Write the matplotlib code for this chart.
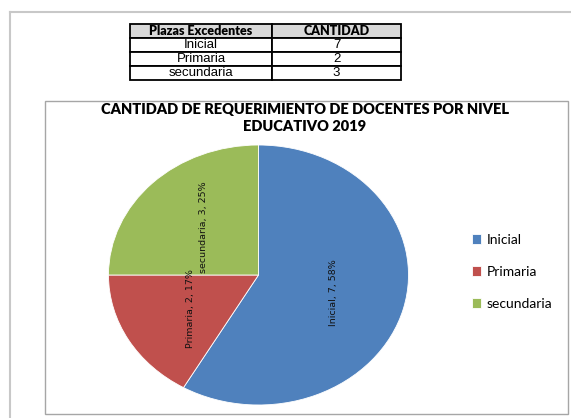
import matplotlib.pyplot as plt
from matplotlib.patches import Rectangle

# data
niveles = ["Inicial", "Primaria", "secundaria"]
cantidad = [7, 2, 3]
colores = ["#4f81bd", "#c0504d", "#9bbb59"]
titulo = "CANTIDAD DE REQUERIMIENTO DE DOCENTES POR NIVEL\nEDUCATIVO 2019"
encabezado = ["Plazas Excedentes", "CANTIDAD"]

W, H = 571, 418


def px_box(x0, y0, x1, y1):
    # pixel box (top-left origin) -> figure fraction rect
    return [x0 / W, 1 - y1 / H, (x1 - x0) / W, (y1 - y0) / H]


fig = plt.figure(figsize=(W / 100, H / 100), dpi=100)
fig.patch.set_facecolor("white")

# outer page frame and chart frame
fig.add_artist(plt.Line2D([10 / W, 10 / W], [0, 1 - 12 / H], color="#c8c8c8", lw=1.5, transform=fig.transFigure))
fig.add_artist(plt.Line2D([10 / W, 1], [1 - 12 / H, 1 - 12 / H], color="#c8c8c8", lw=1.5, transform=fig.transFigure))
fig.add_artist(Rectangle((45 / W, 1 - 414 / H), (568 - 45) / W, (414 - 101) / H,
                         fill=False, ec="#a6a6a6", lw=1, transform=fig.transFigure))

# table
tax = fig.add_axes(px_box(130, 24, 401, 80))
tax.axis("off")
filas = [[n, str(c)] for n, c in zip(niveles, cantidad)]
tab = tax.table(cellText=[encabezado] + filas, colWidths=[142 / 271, 129 / 271],
                cellLoc="center", bbox=[0, 0, 1, 1])
tab.auto_set_font_size(False)
for (r, c), cell in tab.get_celld().items():
    cell.set_linewidth(1.3)
    cell.set_edgecolor("black")
    txt = cell.get_text()
    if r == 0:
        cell.set_facecolor("#d9d9d9")
        txt.set_fontweight("heavy")
        txt.set_fontfamily("Lato")
        txt.set_fontsize(9)
    else:
        txt.set_fontfamily("Liberation Sans")
        txt.set_fontsize(9.5)

# title
fig.text(305 / W, 1 - 118 / H, titulo, ha="center", va="center", fontsize=10.5,
         fontweight="heavy", family="Lato", linespacing=1.3)

# pie (stretched like the original)
ax = fig.add_axes(px_box(258.5 - 150, 275 - 130, 258.5 + 150, 275 + 130))
etiquetas = [f"{n}, {c}, {round(100 * c / sum(cantidad))}%" for n, c in zip(niveles, cantidad)]
wedges, texts = ax.pie(cantidad, colors=colores, startangle=90, counterclock=False,
                       labels=etiquetas, labeldistance=0.52,
                       wedgeprops=dict(edgecolor="white", linewidth=0.6))
for t in texts:
    t.set_rotation(90)
    t.set_ha("center")
    t.set_va("center")
    t.set_fontsize(6.8)
    t.set_family(["Liberation Sans Narrow", "DejaVu Sans"])
    t.set_color("#111111")
ax.set_aspect("auto")
ax.set_xlim(-1, 1)
ax.set_ylim(-1, 1)

fig.legend(wedges, niveles, loc="center left", bbox_to_anchor=(459 / W, 1 - 272 / H),
           frameon=False, handlelength=0.7, handleheight=0.7, handletextpad=0.4,
           labelspacing=1.45, prop={"family": "Lato", "size": 10})

fig.savefig("out.png", dpi=100)
